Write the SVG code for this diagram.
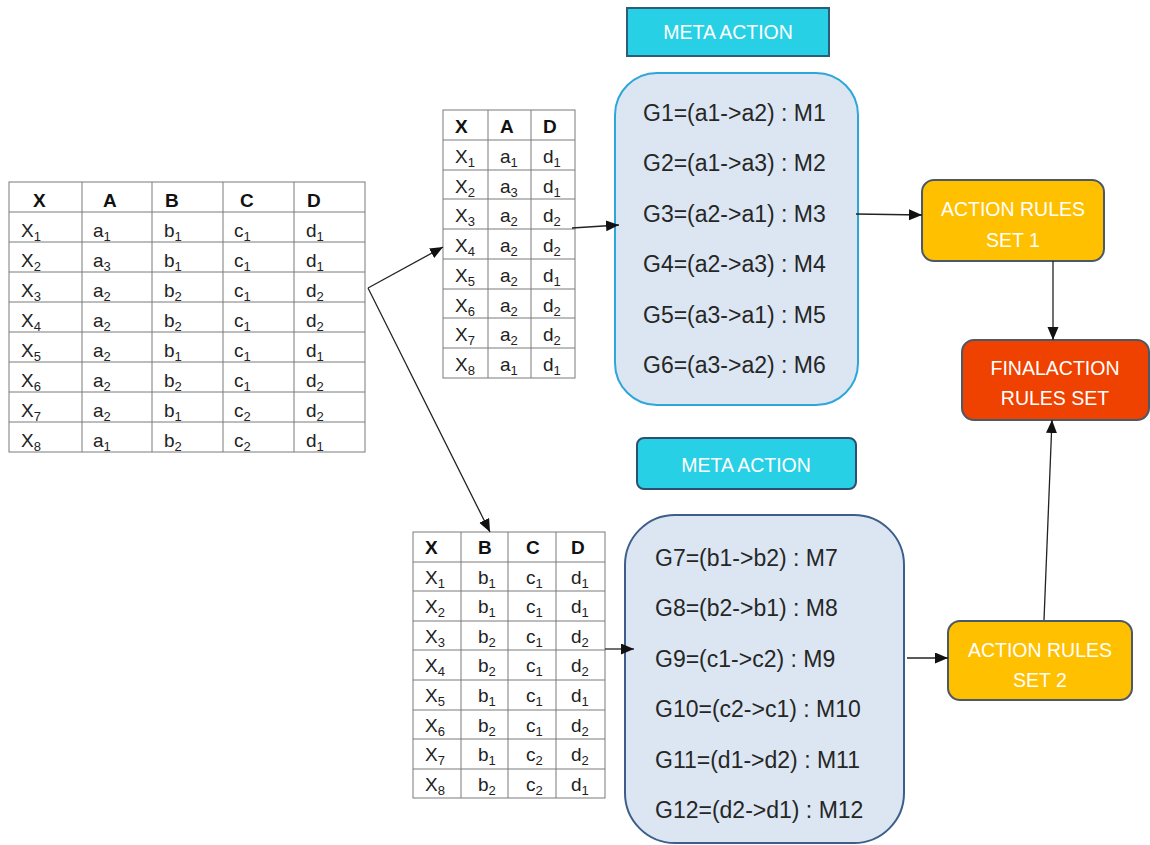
<svg xmlns="http://www.w3.org/2000/svg" width="1150" height="845" viewBox="0 0 1150 845">
  <defs>
    <marker id="arrow" markerUnits="userSpaceOnUse" markerWidth="14" markerHeight="12" refX="13" refY="5.5" orient="auto">
      <path d="M0,0 L13,5.5 L0,11 Z" fill="#111"/>
    </marker>
    <style>
      .grid { stroke: #7a7a7a; stroke-width: 1; fill: none; }
      .frame { stroke: #7a7a7a; stroke-width: 1; fill: #fff; }
      .cell { font-family: "Liberation Sans", Arial, sans-serif; font-size: 19px; fill: #222; }
      .hd { font-family: "Liberation Sans", Arial, sans-serif; font-size: 19px; font-weight: bold; fill: #111; }
      .sub { font-size: 13px; }
      .gline { font-family: "Liberation Sans", Arial, sans-serif; font-size: 23px; fill: #262626; }
      .label { font-family: "Liberation Sans", Arial, sans-serif; font-size: 19.5px; fill: #fff; text-anchor: middle; }
      .conn { stroke: #222; stroke-width: 1.3; fill: none; marker-end: url(#arrow); }
    </style>
  </defs>
  <rect width="1150" height="845" fill="#fff"/>

  <!-- source decision table -->
  <g id="table-full">
    <rect class="frame" x="9" y="182" width="356" height="270"/>
    <path class="grid" d="M82,182V452 M152,182V452 M223,182V452 M294,182V452
      M9,212H365 M9,242H365 M9,272H365 M9,302H365 M9,332H365 M9,362H365 M9,392H365 M9,422H365"/>
    <text class="hd" x="33" y="207">X</text>
    <text class="hd" x="103" y="207">A</text>
    <text class="hd" x="165" y="207">B</text>
    <text class="hd" x="240" y="207">C</text>
    <text class="hd" x="307" y="207">D</text>
    <g class="cell">
      <text x="21" y="237">X<tspan class="sub" dy="4">1</tspan></text>
      <text x="93" y="237">a<tspan class="sub" dy="4">1</tspan></text>
      <text x="164" y="237">b<tspan class="sub" dy="4">1</tspan></text>
      <text x="234" y="237">c<tspan class="sub" dy="4">1</tspan></text>
      <text x="306" y="237">d<tspan class="sub" dy="4">1</tspan></text>

      <text x="21" y="267">X<tspan class="sub" dy="4">2</tspan></text>
      <text x="93" y="267">a<tspan class="sub" dy="4">3</tspan></text>
      <text x="164" y="267">b<tspan class="sub" dy="4">1</tspan></text>
      <text x="234" y="267">c<tspan class="sub" dy="4">1</tspan></text>
      <text x="306" y="267">d<tspan class="sub" dy="4">1</tspan></text>

      <text x="21" y="297">X<tspan class="sub" dy="4">3</tspan></text>
      <text x="93" y="297">a<tspan class="sub" dy="4">2</tspan></text>
      <text x="164" y="297">b<tspan class="sub" dy="4">2</tspan></text>
      <text x="234" y="297">c<tspan class="sub" dy="4">1</tspan></text>
      <text x="306" y="297">d<tspan class="sub" dy="4">2</tspan></text>

      <text x="21" y="327">X<tspan class="sub" dy="4">4</tspan></text>
      <text x="93" y="327">a<tspan class="sub" dy="4">2</tspan></text>
      <text x="164" y="327">b<tspan class="sub" dy="4">2</tspan></text>
      <text x="234" y="327">c<tspan class="sub" dy="4">1</tspan></text>
      <text x="306" y="327">d<tspan class="sub" dy="4">2</tspan></text>

      <text x="21" y="357">X<tspan class="sub" dy="4">5</tspan></text>
      <text x="93" y="357">a<tspan class="sub" dy="4">2</tspan></text>
      <text x="164" y="357">b<tspan class="sub" dy="4">1</tspan></text>
      <text x="234" y="357">c<tspan class="sub" dy="4">1</tspan></text>
      <text x="306" y="357">d<tspan class="sub" dy="4">1</tspan></text>

      <text x="21" y="387">X<tspan class="sub" dy="4">6</tspan></text>
      <text x="93" y="387">a<tspan class="sub" dy="4">2</tspan></text>
      <text x="164" y="387">b<tspan class="sub" dy="4">2</tspan></text>
      <text x="234" y="387">c<tspan class="sub" dy="4">1</tspan></text>
      <text x="306" y="387">d<tspan class="sub" dy="4">2</tspan></text>

      <text x="21" y="417">X<tspan class="sub" dy="4">7</tspan></text>
      <text x="93" y="417">a<tspan class="sub" dy="4">2</tspan></text>
      <text x="164" y="417">b<tspan class="sub" dy="4">1</tspan></text>
      <text x="234" y="417">c<tspan class="sub" dy="4">2</tspan></text>
      <text x="306" y="417">d<tspan class="sub" dy="4">2</tspan></text>

      <text x="21" y="447">X<tspan class="sub" dy="4">8</tspan></text>
      <text x="93" y="447">a<tspan class="sub" dy="4">1</tspan></text>
      <text x="164" y="447">b<tspan class="sub" dy="4">2</tspan></text>
      <text x="234" y="447">c<tspan class="sub" dy="4">2</tspan></text>
      <text x="306" y="447">d<tspan class="sub" dy="4">1</tspan></text>
    </g>
  </g>

  <!-- sub-table A / D -->
  <g id="table-ad">
    <rect class="frame" x="443" y="110" width="132" height="268"/>
    <path class="grid" d="M488,110V378 M531,110V378
      M443,140H575 M443,170H575 M443,199H575 M443,229H575 M443,259H575 M443,289H575 M443,318H575 M443,348H575"/>
    <text class="hd" x="455" y="133">X</text>
    <text class="hd" x="500" y="133">A</text>
    <text class="hd" x="543" y="133">D</text>
    <g class="cell">
      <text x="455" y="163">X<tspan class="sub" dy="4">1</tspan></text>
      <text x="500" y="163">a<tspan class="sub" dy="4">1</tspan></text>
      <text x="543" y="163">d<tspan class="sub" dy="4">1</tspan></text>

      <text x="455" y="193">X<tspan class="sub" dy="4">2</tspan></text>
      <text x="500" y="193">a<tspan class="sub" dy="4">3</tspan></text>
      <text x="543" y="193">d<tspan class="sub" dy="4">1</tspan></text>

      <text x="455" y="222">X<tspan class="sub" dy="4">3</tspan></text>
      <text x="500" y="222">a<tspan class="sub" dy="4">2</tspan></text>
      <text x="543" y="222">d<tspan class="sub" dy="4">2</tspan></text>

      <text x="455" y="252">X<tspan class="sub" dy="4">4</tspan></text>
      <text x="500" y="252">a<tspan class="sub" dy="4">2</tspan></text>
      <text x="543" y="252">d<tspan class="sub" dy="4">2</tspan></text>

      <text x="455" y="282">X<tspan class="sub" dy="4">5</tspan></text>
      <text x="500" y="282">a<tspan class="sub" dy="4">2</tspan></text>
      <text x="543" y="282">d<tspan class="sub" dy="4">1</tspan></text>

      <text x="455" y="312">X<tspan class="sub" dy="4">6</tspan></text>
      <text x="500" y="312">a<tspan class="sub" dy="4">2</tspan></text>
      <text x="543" y="312">d<tspan class="sub" dy="4">2</tspan></text>

      <text x="455" y="341">X<tspan class="sub" dy="4">7</tspan></text>
      <text x="500" y="341">a<tspan class="sub" dy="4">2</tspan></text>
      <text x="543" y="341">d<tspan class="sub" dy="4">2</tspan></text>

      <text x="455" y="371">X<tspan class="sub" dy="4">8</tspan></text>
      <text x="500" y="371">a<tspan class="sub" dy="4">1</tspan></text>
      <text x="543" y="371">d<tspan class="sub" dy="4">1</tspan></text>
    </g>
  </g>

  <!-- sub-table B / C / D -->
  <g id="table-bcd">
    <rect class="frame" x="413" y="532" width="192" height="266"/>
    <path class="grid" d="M461,532V798 M508,532V798 M556,532V798
      M413,562H605 M413,591H605 M413,621H605 M413,650H605 M413,680H605 M413,710H605 M413,739H605 M413,769H605"/>
    <text class="hd" x="425" y="554">X</text>
    <text class="hd" x="478" y="554">B</text>
    <text class="hd" x="526" y="554">C</text>
    <text class="hd" x="571" y="554">D</text>
    <g class="cell">
      <text x="425" y="584">X<tspan class="sub" dy="4">1</tspan></text>
      <text x="478" y="584">b<tspan class="sub" dy="4">1</tspan></text>
      <text x="526" y="584">c<tspan class="sub" dy="4">1</tspan></text>
      <text x="571" y="584">d<tspan class="sub" dy="4">1</tspan></text>

      <text x="425" y="613">X<tspan class="sub" dy="4">2</tspan></text>
      <text x="478" y="613">b<tspan class="sub" dy="4">1</tspan></text>
      <text x="526" y="613">c<tspan class="sub" dy="4">1</tspan></text>
      <text x="571" y="613">d<tspan class="sub" dy="4">1</tspan></text>

      <text x="425" y="643">X<tspan class="sub" dy="4">3</tspan></text>
      <text x="478" y="643">b<tspan class="sub" dy="4">2</tspan></text>
      <text x="526" y="643">c<tspan class="sub" dy="4">1</tspan></text>
      <text x="571" y="643">d<tspan class="sub" dy="4">2</tspan></text>

      <text x="425" y="672">X<tspan class="sub" dy="4">4</tspan></text>
      <text x="478" y="672">b<tspan class="sub" dy="4">2</tspan></text>
      <text x="526" y="672">c<tspan class="sub" dy="4">1</tspan></text>
      <text x="571" y="672">d<tspan class="sub" dy="4">2</tspan></text>

      <text x="425" y="702">X<tspan class="sub" dy="4">5</tspan></text>
      <text x="478" y="702">b<tspan class="sub" dy="4">1</tspan></text>
      <text x="526" y="702">c<tspan class="sub" dy="4">1</tspan></text>
      <text x="571" y="702">d<tspan class="sub" dy="4">1</tspan></text>

      <text x="425" y="732">X<tspan class="sub" dy="4">6</tspan></text>
      <text x="478" y="732">b<tspan class="sub" dy="4">2</tspan></text>
      <text x="526" y="732">c<tspan class="sub" dy="4">1</tspan></text>
      <text x="571" y="732">d<tspan class="sub" dy="4">2</tspan></text>

      <text x="425" y="761">X<tspan class="sub" dy="4">7</tspan></text>
      <text x="478" y="761">b<tspan class="sub" dy="4">1</tspan></text>
      <text x="526" y="761">c<tspan class="sub" dy="4">2</tspan></text>
      <text x="571" y="761">d<tspan class="sub" dy="4">2</tspan></text>

      <text x="425" y="791">X<tspan class="sub" dy="4">8</tspan></text>
      <text x="478" y="791">b<tspan class="sub" dy="4">2</tspan></text>
      <text x="526" y="791">c<tspan class="sub" dy="4">2</tspan></text>
      <text x="571" y="791">d<tspan class="sub" dy="4">1</tspan></text>
    </g>
  </g>

  <!-- meta action headers -->
  <g id="meta-action-1">
    <rect x="627" y="8" width="202" height="48" fill="#27D0E5" stroke="#2D5D78" stroke-width="2"/>
    <text class="label" x="728" y="39">META ACTION</text>
  </g>
  <g id="meta-action-2">
    <rect x="637" y="438" width="219" height="51" rx="7" fill="#27D0E5" stroke="#2D4F70" stroke-width="2"/>
    <text class="label" x="746" y="472">META ACTION</text>
  </g>

  <!-- meta action lists -->
  <g id="meta-list-1">
    <rect x="615" y="73" width="243" height="332" rx="42" fill="#DBE6F2" stroke="#2DA6DA" stroke-width="2"/>
    <text class="gline" x="643" y="121">G1=(a1-&gt;a2) : M1</text>
    <text class="gline" x="643" y="171">G2=(a1-&gt;a3) : M2</text>
    <text class="gline" x="643" y="222">G3=(a2-&gt;a1) : M3</text>
    <text class="gline" x="643" y="272">G4=(a2-&gt;a3) : M4</text>
    <text class="gline" x="643" y="323">G5=(a3-&gt;a1) : M5</text>
    <text class="gline" x="643" y="373">G6=(a3-&gt;a2) : M6</text>
  </g>
  <g id="meta-list-2">
    <rect x="625" y="515" width="279" height="328" rx="50" fill="#DBE6F2" stroke="#3D5E8A" stroke-width="2"/>
    <text class="gline" x="655" y="566">G7=(b1-&gt;b2) : M7</text>
    <text class="gline" x="655" y="616">G8=(b2-&gt;b1) : M8</text>
    <text class="gline" x="655" y="667">G9=(c1-&gt;c2) : M9</text>
    <text class="gline" x="655" y="717">G10=(c2-&gt;c1) : M10</text>
    <text class="gline" x="655" y="768">G11=(d1-&gt;d2) : M11</text>
    <text class="gline" x="655" y="818">G12=(d2-&gt;d1) : M12</text>
  </g>

  <!-- rule sets -->
  <g id="rules-set-1">
    <rect x="922" y="180" width="182" height="81" rx="12" fill="#FFC000" stroke="#4B5868" stroke-width="2"/>
    <text class="label" x="1013" y="216">ACTION RULES</text>
    <text class="label" x="1013" y="247">SET 1</text>
  </g>
  <g id="rules-set-2">
    <rect x="948" y="621" width="184" height="79" rx="12" fill="#FFC000" stroke="#4B5868" stroke-width="2"/>
    <text class="label" x="1040" y="657">ACTION RULES</text>
    <text class="label" x="1040" y="687">SET 2</text>
  </g>
  <g id="final-rules">
    <rect x="962" y="340" width="187" height="80" rx="12" fill="#EF4100" stroke="#4B5868" stroke-width="2"/>
    <text class="label" x="1055" y="375">FINALACTION</text>
    <text class="label" x="1055" y="405">RULES SET</text>
  </g>

  <!-- connectors -->
  <g id="connectors">
    <line class="conn" x1="368" y1="288" x2="443" y2="247"/>
    <line class="conn" x1="368" y1="288" x2="490" y2="532"/>
    <line class="conn" x1="572" y1="228" x2="619" y2="225"/>
    <line class="conn" x1="605" y1="649" x2="634" y2="649"/>
    <line class="conn" x1="856" y1="214" x2="922" y2="215"/>
    <line class="conn" x1="907" y1="658" x2="948" y2="658"/>
    <line class="conn" x1="1053" y1="261" x2="1053" y2="340"/>
    <line class="conn" x1="1044" y1="620" x2="1052" y2="420"/>
  </g>
</svg>
